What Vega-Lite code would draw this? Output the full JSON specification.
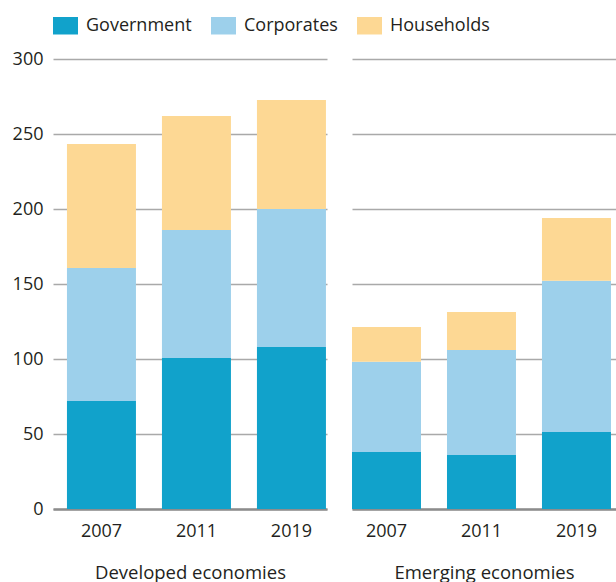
{
  "$schema": "https://vega.github.io/schema/vega-lite/v6.json",
  "background": "white",
  "padding": {"left": 12, "top": 13, "right": 0, "bottom": 0},
  "config": {
    "font": "Open Sans",
    "view": {"stroke": null},
    "axis": {"labelFont": "Open Sans", "titleFont": "Open Sans", "labelColor": "#231f20", "titleColor": "#231f20"},
    "legend": {"labelFont": "Open Sans", "labelColor": "#231f20"}
  },
  "datasets": {
    "debt": [
      {"economy": "Developed economies", "year": "2007", "type": "Government", "k": 1, "value": 72},
      {"economy": "Developed economies", "year": "2007", "type": "Corporates", "k": 2, "value": 88.7},
      {"economy": "Developed economies", "year": "2007", "type": "Households", "k": 3, "value": 82.6},
      {"economy": "Developed economies", "year": "2011", "type": "Government", "k": 1, "value": 100.7},
      {"economy": "Developed economies", "year": "2011", "type": "Corporates", "k": 2, "value": 85.3},
      {"economy": "Developed economies", "year": "2011", "type": "Households", "k": 3, "value": 76},
      {"economy": "Developed economies", "year": "2019", "type": "Government", "k": 1, "value": 108},
      {"economy": "Developed economies", "year": "2019", "type": "Corporates", "k": 2, "value": 92},
      {"economy": "Developed economies", "year": "2019", "type": "Households", "k": 3, "value": 72.7},
      {"economy": "Emerging economies", "year": "2007", "type": "Government", "k": 1, "value": 38},
      {"economy": "Emerging economies", "year": "2007", "type": "Corporates", "k": 2, "value": 60.2},
      {"economy": "Emerging economies", "year": "2007", "type": "Households", "k": 3, "value": 23.1},
      {"economy": "Emerging economies", "year": "2011", "type": "Government", "k": 1, "value": 36},
      {"economy": "Emerging economies", "year": "2011", "type": "Corporates", "k": 2, "value": 70},
      {"economy": "Emerging economies", "year": "2011", "type": "Households", "k": 3, "value": 25.3},
      {"economy": "Emerging economies", "year": "2019", "type": "Government", "k": 1, "value": 51.3},
      {"economy": "Emerging economies", "year": "2019", "type": "Corporates", "k": 2, "value": 100.9},
      {"economy": "Emerging economies", "year": "2019", "type": "Households", "k": 3, "value": 41.8}
    ]
  },
  "data": {"name": "debt"},
  "spacing": 25,
  "resolve": {"scale": {"x": "independent"}},
  "hconcat": [
    {
      "width": 274,
      "height": 450,
      "transform": [{"filter": "datum.economy === 'Developed economies'"}],
      "mark": {"type": "bar"},
      "encoding": {
        "x": {
          "field": "year", "type": "ordinal",
          "scale": {"paddingInner": 0.2737, "paddingOuter": 0.079, "align": 0.93},
          "axis": {"title": "Developed economies", "labelAngle": 0, "labelFontSize": 18, "titleFontSize": 18.5, "titleFontWeight": "normal", "labelPadding": 13, "titlePadding": 23, "ticks": false, "domainColor": "#8c8c8c", "domainWidth": 2.5}
        },
        "y": {
          "field": "value", "type": "quantitative", "stack": "zero",
          "scale": {"domain": [0, 300]},
          "axis": {"title": null, "values": [0, 50, 100, 150, 200, 250, 300], "labelFontSize": 18, "labelPadding": 10, "ticks": false, "domain": false, "gridColor": "#a9a9a9", "gridWidth": 1.5}
        },
        "color": {
          "field": "type", "type": "nominal",
          "scale": {"domain": ["Government", "Corporates", "Households"], "range": ["#11a2cb", "#9dd0eb", "#fdd894"]},
          "legend": {"title": null, "orient": "top", "direction": "horizontal", "symbolType": "M-1,-0.7H1V0.7H-1Z", "symbolSize": 625, "symbolStrokeWidth": 0, "symbolOpacity": 1, "labelFontSize": 18, "labelOffset": 8, "columnPadding": 19, "offset": 15, "padding": 0}
        },
        "order": {"field": "k", "type": "quantitative"}
      }
    },
    {
      "width": 264,
      "height": 450,
      "transform": [{"filter": "datum.economy === 'Emerging economies'"}],
      "mark": {"type": "bar"},
      "encoding": {
        "x": {
          "field": "year", "type": "ordinal",
          "scale": {"paddingInner": 0.2737, "paddingOuter": 0.0265, "align": 0},
          "axis": {"title": "Emerging economies", "labelAngle": 0, "labelFontSize": 18, "titleFontSize": 18.5, "titleFontWeight": "normal", "labelPadding": 13, "titlePadding": 23, "ticks": false, "domainColor": "#8c8c8c", "domainWidth": 2.5}
        },
        "y": {
          "field": "value", "type": "quantitative", "stack": "zero",
          "scale": {"domain": [0, 300]},
          "axis": {"title": null, "values": [0, 50, 100, 150, 200, 250, 300], "labels": false, "ticks": false, "domain": false, "gridColor": "#a9a9a9", "gridWidth": 1.5}
        },
        "color": {"field": "type", "type": "nominal"},
        "order": {"field": "k", "type": "quantitative"}
      }
    }
  ]
}
